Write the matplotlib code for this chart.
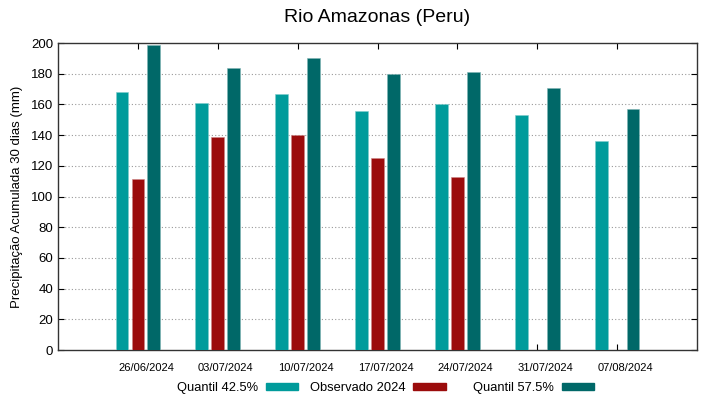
import numpy as np
import matplotlib.pyplot as plt
import matplotlib.transforms as mtransforms
from matplotlib.patches import Patch

plt.rcParams['font.family'] = ['Liberation Sans', 'DejaVu Sans']

# dados
datas = ['26/06/2024', '03/07/2024', '10/07/2024', '17/07/2024',
         '24/07/2024', '31/07/2024', '07/08/2024']
q425 = [168, 161, 167, 156, 160, 153, 136]
obs2024 = [111.5, 138.5, 140, 125, 112.5, np.nan, np.nan]
q575 = [199, 184, 190, 180, 181, 171, 157]

c_q425 = '#009b9b'
c_obs = '#9b0c0c'
c_q575 = '#006868'

W, H = 719, 399
fig = plt.figure(figsize=(W / 100, H / 100), dpi=100)
ax = fig.add_axes([0.0807, 0.1228, 0.8887, 0.7692])

x = np.arange(1, len(datas) + 1)
w = 0.16
off = 0.2
ax.bar(x - off, q425, w, color=c_q425, edgecolor='#7fcdcd', linewidth=0.4, zorder=3)
ax.bar(x, obs2024, w, color=c_obs, edgecolor='#cd8585', linewidth=0.4, zorder=3)
ax.bar(x + off, q575, w, color=c_q575, edgecolor='#7fb3b3', linewidth=0.4, zorder=3)

ax.set_xlim(0, 8)
ax.set_ylim(0, 200)
ax.set_yticks(np.arange(0, 201, 20))
ax.set_xticks(x)
ax.set_xticklabels(datas, fontsize=8)
ax.tick_params(axis='y', labelsize=9.5, direction='in', right=True, length=4, pad=3.5)
ax.tick_params(axis='x', direction='in', top=True, length=4, pad=9)

# os rotulos das datas ficam um pouco a direita do centro do grupo
shift = mtransforms.ScaledTranslation(0.08, 0, fig.dpi_scale_trans)
for lbl in ax.get_xticklabels():
    lbl.set_transform(lbl.get_transform() + shift)

for v in range(20, 200, 20):
    ax.axhline(v, color='#999999', linewidth=0.8, linestyle=(0, (1, 2)), zorder=1)

for s in ax.spines.values():
    s.set_color('#333333')
    s.set_linewidth(1.0)

ax.set_ylabel('Precipitação Acumulada 30 dias (mm)', fontsize=9.5, labelpad=6)
ax.set_title('Rio Amazonas (Peru)', fontsize=14, pad=15)

# legenda em colunas fixas, como no original
entries = [('Quantil 42.5%', c_q425, 177),
           ('Observado 2024', c_obs, 310),
           ('Quantil 57.5%', c_q575, 473)]
for label, col, px in entries:
    fig.legend([Patch(color=col)], [label], loc='center left',
               bbox_to_anchor=(px / W, 1 - 388 / H), frameon=False,
               markerfirst=False, fontsize=9.3, handlelength=2.5,
               handleheight=0.45, handletextpad=0.6, borderpad=0,
               borderaxespad=0)

fig.savefig('out.png', dpi=100)
